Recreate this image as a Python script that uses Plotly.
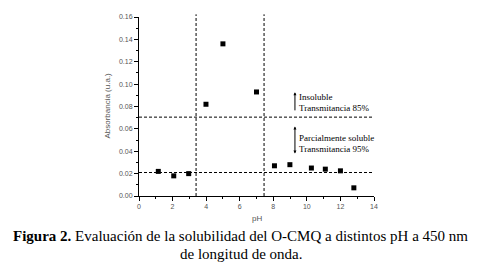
import plotly.graph_objects as go

ph = [1.15, 2.07, 2.96, 3.99, 5.0, 7.0, 8.07, 8.99, 10.27, 11.1, 12.0, 12.8]
absorbancia = [0.022, 0.018, 0.020, 0.082, 0.136, 0.093, 0.027, 0.028, 0.025, 0.024, 0.0225, 0.0073]
vlines = [3.4, 7.45]
hlines = [0.0705, 0.021]
x_ticks = [0, 2, 4, 6, 8, 10, 12, 14]
y_ticks = [0.00, 0.02, 0.04, 0.06, 0.08, 0.10, 0.12, 0.14, 0.16]

fig = go.Figure()
fig.add_trace(go.Scatter(x=ph, y=absorbancia, mode="markers",
                         marker=dict(symbol="square", size=5, color="black"),
                         showlegend=False))

shapes = []
for v in vlines:
    shapes.append(dict(type="line", xref="x", yref="paper", x0=v, x1=v, y0=0, y1=1.015,
                       line=dict(color="black", width=1, dash="3px,2px")))
for h in hlines:
    shapes.append(dict(type="line", xref="paper", yref="y", x0=0, x1=1, y0=h, y1=h,
                       line=dict(color="black", width=1, dash="3px,2px")))

serif = "Liberation Serif"
ann = []
# arrows
ann.append(dict(x=9.29, y=0.0927, ax=9.29, ay=0.0752, xref="x", yref="y", axref="x", ayref="y",
                showarrow=True, arrowhead=2, arrowsize=0.6, arrowwidth=1, arrowcolor="black", text=""))
ann.append(dict(x=9.29, y=0.0621, ax=9.29, ay=0.0367, xref="x", yref="y", axref="x", ayref="y",
                showarrow=True, arrowhead=2, arrowside="end+start", arrowsize=0.6, arrowwidth=1,
                arrowcolor="black", text=""))
labels = [("Insoluble", 0.0883), ("Transmitancia 85%", 0.0787),
          ("Parcialmente soluble", 0.0516), ("Transmitancia 95%", 0.0420)]
for t, yy in labels:
    ann.append(dict(x=9.4, y=yy, xref="x", yref="y", text=t, showarrow=False,
                    xanchor="left", yanchor="middle", font=dict(family=serif, size=9, color="black")))
# axis titles
ann.append(dict(x=-0.132, y=0.505, xref="paper", yref="paper", text="Absorbancia (u.a.)",
                textangle=-90, showarrow=False, xanchor="center", yanchor="middle",
                font=dict(family="Liberation Sans", size=8, color="#555")))
ann.append(dict(x=7.02, y=-0.126, xref="x", yref="paper", text="pH", showarrow=False,
                xanchor="center", yanchor="middle",
                font=dict(family="Liberation Sans", size=8, color="#555")))
# caption
ann.append(dict(x=0.434, y=-0.224, xref="paper", yref="paper",
                text="<b>Figura 2.</b> Evaluación de la solubilidad del O-CMQ a distintos pH a 450 nm",
                showarrow=False, xanchor="center", yanchor="middle",
                font=dict(family=serif, size=15, color="black")))
ann.append(dict(x=0.434, y=-0.322, xref="paper", yref="paper", text="de longitud de onda.",
                showarrow=False, xanchor="center", yanchor="middle",
                font=dict(family=serif, size=15, color="black")))

fig.update_layout(
    width=475, height=265,
    margin=dict(l=131, r=109, t=5, b=77),
    paper_bgcolor="white", plot_bgcolor="white",
    shapes=shapes, annotations=ann,
    xaxis=dict(range=[0, 14], tickvals=x_ticks, ticktext=[str(v) for v in x_ticks],
               showgrid=False, zeroline=False, showline=True, linecolor="black", linewidth=1,
               ticks="outside", ticklen=4, tickcolor="black",
               minor=dict(ticks="outside", ticklen=2, dtick=1, tickcolor="black"),
               tickfont=dict(family="Liberation Sans", size=7, color="#555")),
    yaxis=dict(range=[0, 0.16], tickvals=y_ticks, ticktext=[f"{v:.2f}" for v in y_ticks],
               showgrid=False, zeroline=False, showline=True, linecolor="black", linewidth=1,
               ticks="outside", ticklen=4, tickcolor="black",
               minor=dict(ticks="outside", ticklen=2, dtick=0.01, tickcolor="black"),
               tickfont=dict(family="Liberation Sans", size=7, color="#555")),
)
fig.write_html("out.html")
